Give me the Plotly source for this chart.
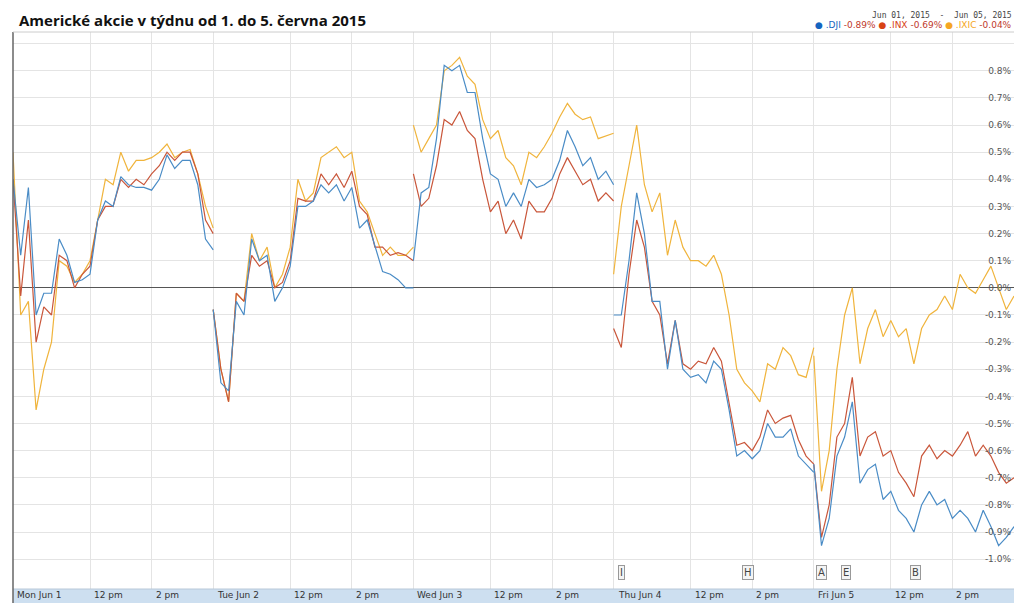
import plotly.graph_objects as go

# hodnoty v % po 15 minutách, 9:30-16:00 (27 bodů na den)
dni = ['Mon Jun 1', 'Tue Jun 2', 'Wed Jun 3', 'Thu Jun 4', 'Fri Jun 5']

dji = [
    [0.40, 0.12, 0.37, -0.10, -0.02, -0.02, 0.18, 0.12, 0.02, 0.03, 0.05, 0.25, 0.32, 0.30, 0.41, 0.38, 0.37, 0.37, 0.36, 0.40, 0.49, 0.44, 0.47, 0.47, 0.38, 0.18, 0.14],
    [-0.08, -0.35, -0.38, -0.05, -0.10, 0.18, 0.10, 0.12, -0.05, 0.00, 0.08, 0.30, 0.30, 0.32, 0.38, 0.35, 0.38, 0.32, 0.37, 0.22, 0.25, 0.15, 0.06, 0.05, 0.03, 0.00, 0.00],
    [0.10, 0.35, 0.37, 0.55, 0.82, 0.80, 0.82, 0.72, 0.72, 0.55, 0.42, 0.40, 0.30, 0.35, 0.30, 0.40, 0.37, 0.38, 0.40, 0.47, 0.58, 0.52, 0.45, 0.48, 0.40, 0.43, 0.38],
    [-0.10, -0.10, 0.10, 0.35, 0.20, -0.05, -0.05, -0.30, -0.12, -0.30, -0.33, -0.32, -0.35, -0.27, -0.30, -0.45, -0.62, -0.60, -0.63, -0.60, -0.50, -0.55, -0.55, -0.52, -0.62, -0.65, -0.68],
    [-0.65, -0.95, -0.85, -0.62, -0.55, -0.42, -0.72, -0.67, -0.65, -0.78, -0.75, -0.82, -0.85, -0.90, -0.80, -0.75, -0.80, -0.78, -0.85, -0.82, -0.85, -0.90, -0.82, -0.88, -0.95, -0.92, -0.88],
]
inx = [
    [0.40, -0.03, 0.25, -0.20, -0.07, -0.10, 0.12, 0.10, 0.00, 0.05, 0.08, 0.25, 0.30, 0.30, 0.40, 0.37, 0.40, 0.38, 0.42, 0.45, 0.50, 0.47, 0.50, 0.50, 0.42, 0.25, 0.20],
    [-0.08, -0.30, -0.42, -0.02, -0.05, 0.12, 0.08, 0.10, 0.00, 0.02, 0.10, 0.33, 0.32, 0.32, 0.42, 0.38, 0.42, 0.37, 0.43, 0.30, 0.27, 0.15, 0.15, 0.12, 0.13, 0.12, 0.10],
    [0.42, 0.30, 0.33, 0.45, 0.62, 0.60, 0.65, 0.58, 0.55, 0.40, 0.28, 0.32, 0.20, 0.25, 0.18, 0.32, 0.28, 0.28, 0.33, 0.42, 0.48, 0.43, 0.38, 0.40, 0.32, 0.35, 0.32],
    [-0.15, -0.22, 0.05, 0.25, 0.15, -0.05, -0.10, -0.28, -0.12, -0.28, -0.30, -0.27, -0.28, -0.22, -0.27, -0.42, -0.58, -0.57, -0.60, -0.55, -0.45, -0.50, -0.48, -0.47, -0.56, -0.62, -0.65],
    [-0.65, -0.92, -0.80, -0.55, -0.50, -0.33, -0.62, -0.55, -0.53, -0.62, -0.60, -0.68, -0.72, -0.77, -0.62, -0.58, -0.63, -0.60, -0.62, -0.58, -0.53, -0.62, -0.58, -0.62, -0.68, -0.72, -0.70],
]
ixic = [
    [0.50, -0.10, -0.05, -0.45, -0.30, -0.20, 0.10, 0.08, 0.02, 0.05, 0.10, 0.25, 0.40, 0.38, 0.50, 0.43, 0.47, 0.47, 0.48, 0.50, 0.53, 0.48, 0.50, 0.51, 0.42, 0.30, 0.22],
    [-0.08, -0.30, -0.42, -0.02, -0.05, 0.20, 0.10, 0.15, 0.00, 0.05, 0.15, 0.40, 0.32, 0.35, 0.48, 0.50, 0.52, 0.48, 0.50, 0.32, 0.28, 0.20, 0.12, 0.15, 0.12, 0.12, 0.15],
    [0.60, 0.50, 0.55, 0.60, 0.80, 0.82, 0.85, 0.78, 0.75, 0.62, 0.55, 0.58, 0.48, 0.45, 0.38, 0.50, 0.48, 0.52, 0.57, 0.63, 0.68, 0.64, 0.62, 0.63, 0.55, 0.56, 0.57],
    [0.05, 0.30, 0.45, 0.60, 0.38, 0.28, 0.35, 0.12, 0.25, 0.15, 0.10, 0.10, 0.08, 0.12, 0.05, -0.10, -0.30, -0.35, -0.38, -0.42, -0.28, -0.30, -0.22, -0.25, -0.32, -0.33, -0.22],
    [-0.25, -0.75, -0.60, -0.30, -0.10, 0.00, -0.28, -0.15, -0.08, -0.18, -0.12, -0.18, -0.15, -0.28, -0.15, -0.10, -0.08, -0.03, -0.08, 0.05, 0.00, -0.02, 0.03, 0.08, 0.00, -0.08, -0.03],
]

# udalosti dole u osy (pozice v čtvrthodinách od začátku týdne)
udalosti = ['I', 'H', 'A', 'E', 'B']
udalosti_x = [79.0, 95.5, 105.0, 108.2, 117.2]

osa_y = [-1.0, -0.9, -0.8, -0.7, -0.6, -0.5, -0.4, -0.3, -0.2, -0.1, 0.0, 0.1, 0.2, 0.3, 0.4, 0.5, 0.6, 0.7, 0.8]
osa_y_text = ['-1.0%', '-0.9%', '-0.8%', '-0.7%', '-0.6%', '-0.5%', '-0.4%', '-0.3%', '-0.2%', '-0.1%', '0.0%',
              '0.1%', '0.2%', '0.3%', '0.4%', '0.5%', '0.6%', '0.7%', '0.8%']

KROKY = 26  # 6.5 hodiny po 15 min


def rada(dny):
    # spojí dny do jedné řady, mezi dny None aby se čára přerušila
    xs, ys = [], []
    for d, hodnoty in enumerate(dny):
        for k, v in enumerate(hodnoty):
            xs.append(d * KROKY + k)
            ys.append(v)
        xs.append(None)
        ys.append(None)
    return xs, ys


fig = go.Figure()
for nazev, dny, barva in [('.IXIC', ixic, '#f0b43c'), ('.INX', inx, '#c9563a'), ('.DJI', dji, '#4a8cc6')]:
    xs, ys = rada(dny)
    fig.add_trace(go.Scatter(x=xs, y=ys, mode='lines', name=nazev,
                             line=dict(color=barva, width=1.2), connectgaps=False))

# svislá mřížka: začátek dne, 12 pm, 2 pm
mrizka_x = []
popisky = []
for d, den in enumerate(dni):
    for k, txt in [(0, den), (10, '12 pm'), (18, '2 pm')]:
        mrizka_x.append(d * KROKY + k)
        popisky.append(txt)

fig.update_layout(
    autosize=True,
    margin=dict(l=5, r=2, t=24, b=14),
    plot_bgcolor='white', paper_bgcolor='white',
    showlegend=False,
    font=dict(family='DejaVu Sans', size=9, color='#555'),
    xaxis=dict(range=[0, 130], tickvals=mrizka_x, showticklabels=False, showgrid=True,
               gridcolor='#e4e4e4', zeroline=False, fixedrange=True),
    yaxis=dict(range=[-1.11, 0.943], side='right', tickvals=osa_y + [0.9], ticktext=osa_y_text + [''],
               ticklabelposition='inside', showgrid=True, gridcolor='#e4e4e4',
               zeroline=True, zerolinecolor='#555', zerolinewidth=1,
               tickfont=dict(size=9, color='#555')),
)

# modrý pruh s časovou osou
fig.add_shape(type='rect', xref='paper', yref='paper', x0=0, x1=1, y0=-0.025, y1=0,
              fillcolor='#cddff0', line=dict(width=0), layer='below')
fig.add_shape(type='line', xref='paper', yref='paper', x0=0, x1=1, y0=0, y1=0,
              line=dict(color='#b8c8d8', width=1))
fig.add_shape(type='line', xref='paper', yref='paper', x0=0, x1=0, y0=-0.025, y1=1,
              line=dict(color='#666', width=1.5))
fig.add_shape(type='line', xref='paper', yref='paper', x0=0, x1=1, y0=1, y1=1,
              line=dict(color='#ccc', width=1))

for x, txt in zip(mrizka_x, popisky):
    fig.add_annotation(x=x, y=0, xref='x', yref='paper', text=txt, showarrow=False,
                       xanchor='left', yanchor='top', xshift=2, yshift=1,
                       font=dict(size=9, color='#333'))

for x, txt in zip(udalosti_x, udalosti):
    fig.add_annotation(x=x, y=-1.05, xref='x', yref='y', text=txt, showarrow=False,
                       bgcolor='#f4f4f4', bordercolor='#999', borderwidth=1, borderpad=1,
                       font=dict(size=10, color='#444'))

fig.add_annotation(x=0.004, y=1, xref='paper', yref='paper', yanchor='bottom', xanchor='left',
                   text='<b>Americké akcie v týdnu od 1. do 5. června 2015</b>', showarrow=False,
                   yshift=0, font=dict(family='Open Sans', size=15, color='#111'))
fig.add_annotation(x=1, y=1, xref='paper', yref='paper', xanchor='right', yanchor='bottom',
                   text='Jun 01, 2015  -  Jun 05, 2015', showarrow=False, yshift=10,
                   font=dict(family='DejaVu Sans Mono', size=8, color='#444'))
fig.add_annotation(x=1, y=1, xref='paper', yref='paper', xanchor='right', yanchor='bottom',
                   text=("<span style='color:#1565c0'>● .DJI</span><span style='color:#c0392b'> -0.89%</span> "
                         "<span style='color:#d84315'>● .INX</span><span style='color:#c0392b'> -0.69%</span> "
                         "<span style='color:#f5a623'>● .IXIC</span><span style='color:#c0392b'> -0.04%</span>"),
                   showarrow=False, yshift=0, font=dict(size=9))

fig.write_html('out.html', config={'displayModeBar': False})
